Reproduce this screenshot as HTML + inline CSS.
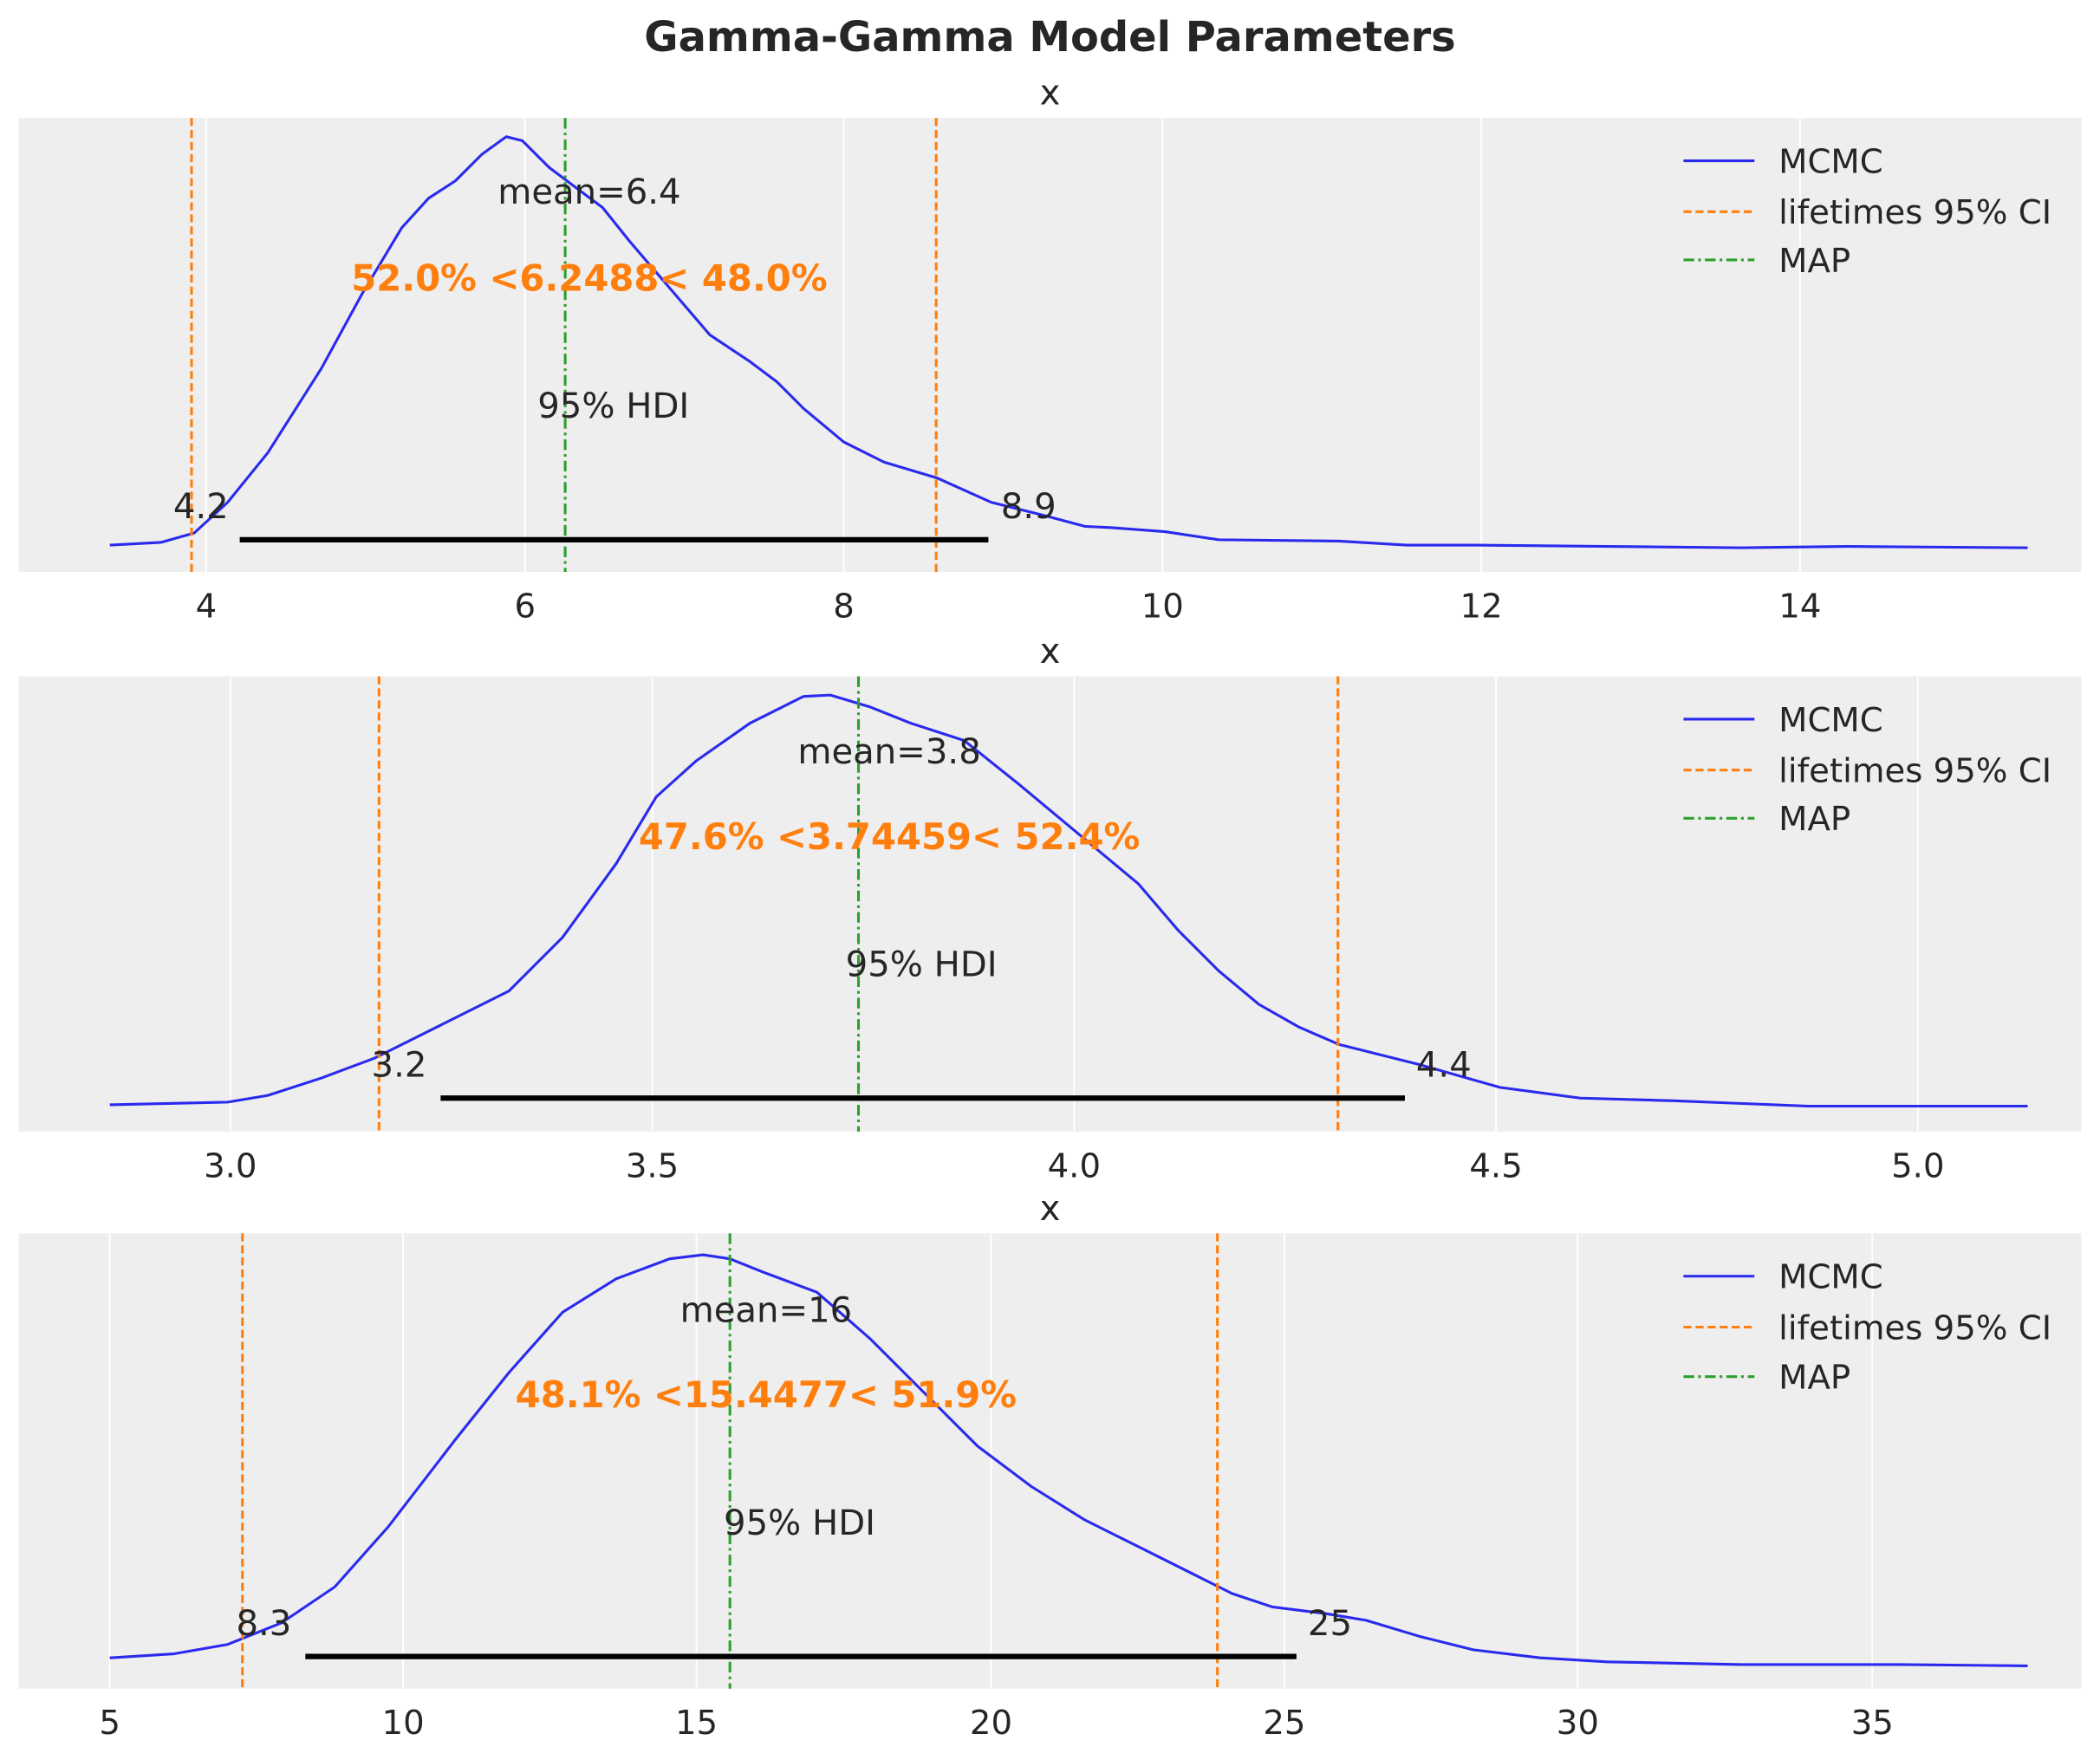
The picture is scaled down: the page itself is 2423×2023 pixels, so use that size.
<!DOCTYPE html>
<html><head><meta charset="utf-8"><style>html,body{margin:0;padding:0;background:#fff}svg{display:block}text{font-family:"DejaVu Sans","Liberation Sans",sans-serif;fill:#262626}polyline{stroke-linejoin:round}</style></head>
<body>
<svg width="2423" height="2023" viewBox="0 0 1568 1309" xmlns="http://www.w3.org/2000/svg">
<text x="784" y="38" font-size="31" font-weight="bold" text-anchor="middle">Gamma-Gamma Model Parameters</text>

<!-- Panel 1 -->
<rect x="14" y="88" width="1540" height="339" fill="#eeeeee"/>
<g stroke="#fff" stroke-width="1.2">
<line x1="154" y1="88" x2="154" y2="427"/><line x1="392" y1="88" x2="392" y2="427"/><line x1="630" y1="88" x2="630" y2="427"/><line x1="868" y1="88" x2="868" y2="427"/><line x1="1106" y1="88" x2="1106" y2="427"/><line x1="1344" y1="88" x2="1344" y2="427"/></g>
<g font-size="25" text-anchor="middle"><text x="154" y="461">4</text><text x="392" y="461">6</text><text x="630" y="461">8</text><text x="868" y="461">10</text><text x="1106" y="461">12</text><text x="1344" y="461">14</text></g>
<text x="784" y="78" font-size="26" text-anchor="middle">x</text>
<polyline fill="none" stroke="#2a2aee" stroke-width="2" points="82,407 120,405 145,398 170,375 200,338 240,275 270,220 300,170 320,148 340,135 360,115 378,102 390,105 410,125 430,140 450,155 470,180 500,215 530,250 560,270 580,285 600,305 630,330 660,345 700,357 740,375 780,385 810,393 830,394 870,397 910,403 1000,404 1050,407 1100,407 1200,408 1300,409 1380,408 1514,409"/>
<line x1="143" y1="88" x2="143" y2="427" stroke="#ff7f0e" stroke-width="2" stroke-dasharray="6,3"/>
<line x1="699" y1="88" x2="699" y2="427" stroke="#ff7f0e" stroke-width="2" stroke-dasharray="6,3"/>
<line x1="422" y1="88" x2="422" y2="427" stroke="#2ca02c" stroke-width="2" stroke-dasharray="8,3,2,3"/>
<line x1="179" y1="403" x2="738" y2="403" stroke="#000" stroke-width="4"/>
<g font-size="26" text-anchor="middle"><text x="150" y="387">4.2</text><text x="768" y="387">8.9</text><text x="440" y="152">mean=6.4</text><text x="458" y="312">95% HDI</text></g>
<text x="440" y="217" font-size="27" font-weight="bold" text-anchor="middle" style="fill:#ff7f0e">52.0% &lt;6.2488&lt; 48.0%</text>
<g font-size="25"><line x1="1257" y1="120" x2="1310" y2="120" stroke="#2a2aee" stroke-width="2"/><text x="1328" y="129">MCMC</text>
<line x1="1257" y1="158" x2="1310" y2="158" stroke="#ff7f0e" stroke-width="2" stroke-dasharray="6,3"/><text x="1328" y="167">lifetimes 95% CI</text>
<line x1="1257" y1="194" x2="1310" y2="194" stroke="#2ca02c" stroke-width="2" stroke-dasharray="8,3,2,3"/><text x="1328" y="203">MAP</text></g>

<!-- Panel 2 -->
<rect x="14" y="505" width="1540" height="340" fill="#eeeeee"/>
<g stroke="#fff" stroke-width="1.2">
<line x1="172" y1="505" x2="172" y2="845"/><line x1="487" y1="505" x2="487" y2="845"/><line x1="802" y1="505" x2="802" y2="845"/><line x1="1117" y1="505" x2="1117" y2="845"/><line x1="1432" y1="505" x2="1432" y2="845"/></g>
<g font-size="25" text-anchor="middle"><text x="172" y="879">3.0</text><text x="487" y="879">3.5</text><text x="802" y="879">4.0</text><text x="1117" y="879">4.5</text><text x="1432" y="879">5.0</text></g>
<text x="784" y="495" font-size="26" text-anchor="middle">x</text>
<polyline fill="none" stroke="#2a2aee" stroke-width="2" points="82,825 170,823 200,818 240,805 280,790 330,765 380,740 420,700 460,645 490,595 520,568 560,540 600,520 620,519 650,528 680,540 720,553 760,585 790,610 820,635 850,660 880,695 910,725 940,750 970,767 1000,780 1060,795 1120,812 1180,820 1250,822 1350,826 1420,826 1514,826"/>
<line x1="283" y1="505" x2="283" y2="845" stroke="#ff7f0e" stroke-width="2" stroke-dasharray="6,3"/>
<line x1="999" y1="505" x2="999" y2="845" stroke="#ff7f0e" stroke-width="2" stroke-dasharray="6,3"/>
<line x1="641" y1="505" x2="641" y2="845" stroke="#2ca02c" stroke-width="2" stroke-dasharray="8,3,2,3"/>
<line x1="329" y1="820" x2="1049" y2="820" stroke="#000" stroke-width="4"/>
<g font-size="26" text-anchor="middle"><text x="298" y="804">3.2</text><text x="1078" y="804">4.4</text><text x="664" y="570">mean=3.8</text><text x="688" y="729">95% HDI</text></g>
<text x="664" y="634" font-size="27" font-weight="bold" text-anchor="middle" style="fill:#ff7f0e">47.6% &lt;3.74459&lt; 52.4%</text>
<g font-size="25"><line x1="1257" y1="537" x2="1310" y2="537" stroke="#2a2aee" stroke-width="2"/><text x="1328" y="546">MCMC</text>
<line x1="1257" y1="575" x2="1310" y2="575" stroke="#ff7f0e" stroke-width="2" stroke-dasharray="6,3"/><text x="1328" y="584">lifetimes 95% CI</text>
<line x1="1257" y1="611" x2="1310" y2="611" stroke="#2ca02c" stroke-width="2" stroke-dasharray="8,3,2,3"/><text x="1328" y="620">MAP</text></g>

<!-- Panel 3 -->
<rect x="14" y="921" width="1540" height="340" fill="#eeeeee"/>
<g stroke="#fff" stroke-width="1.2">
<line x1="82" y1="921" x2="82" y2="1261"/><line x1="301" y1="921" x2="301" y2="1261"/><line x1="520" y1="921" x2="520" y2="1261"/><line x1="740" y1="921" x2="740" y2="1261"/><line x1="959" y1="921" x2="959" y2="1261"/><line x1="1178" y1="921" x2="1178" y2="1261"/><line x1="1398" y1="921" x2="1398" y2="1261"/></g>
<g font-size="25" text-anchor="middle"><text x="82" y="1295">5</text><text x="301" y="1295">10</text><text x="520" y="1295">15</text><text x="740" y="1295">20</text><text x="959" y="1295">25</text><text x="1178" y="1295">30</text><text x="1398" y="1295">35</text></g>
<text x="784" y="911" font-size="26" text-anchor="middle">x</text>
<polyline fill="none" stroke="#2a2aee" stroke-width="2" points="82,1238 130,1235 170,1228 210,1212 250,1185 290,1140 340,1075 380,1025 420,980 460,955 500,940 525,937 545,940 570,950 610,965 650,1000 690,1040 730,1080 770,1110 810,1135 850,1155 890,1175 920,1190 950,1200 990,1205 1020,1210 1060,1222 1100,1232 1150,1238 1200,1241 1300,1243 1420,1243 1514,1244"/>
<line x1="181" y1="921" x2="181" y2="1261" stroke="#ff7f0e" stroke-width="2" stroke-dasharray="6,3"/>
<line x1="909" y1="921" x2="909" y2="1261" stroke="#ff7f0e" stroke-width="2" stroke-dasharray="6,3"/>
<line x1="545" y1="921" x2="545" y2="1261" stroke="#2ca02c" stroke-width="2" stroke-dasharray="8,3,2,3"/>
<line x1="228" y1="1237" x2="968" y2="1237" stroke="#000" stroke-width="4"/>
<g font-size="26" text-anchor="middle"><text x="197" y="1221">8.3</text><text x="993" y="1221">25</text><text x="572" y="987">mean=16</text><text x="597" y="1146">95% HDI</text></g>
<text x="572" y="1051" font-size="27" font-weight="bold" text-anchor="middle" style="fill:#ff7f0e">48.1% &lt;15.4477&lt; 51.9%</text>
<g font-size="25"><line x1="1257" y1="953" x2="1310" y2="953" stroke="#2a2aee" stroke-width="2"/><text x="1328" y="962">MCMC</text>
<line x1="1257" y1="991" x2="1310" y2="991" stroke="#ff7f0e" stroke-width="2" stroke-dasharray="6,3"/><text x="1328" y="1000">lifetimes 95% CI</text>
<line x1="1257" y1="1028" x2="1310" y2="1028" stroke="#2ca02c" stroke-width="2" stroke-dasharray="8,3,2,3"/><text x="1328" y="1037">MAP</text></g>
</svg>
</body></html>
